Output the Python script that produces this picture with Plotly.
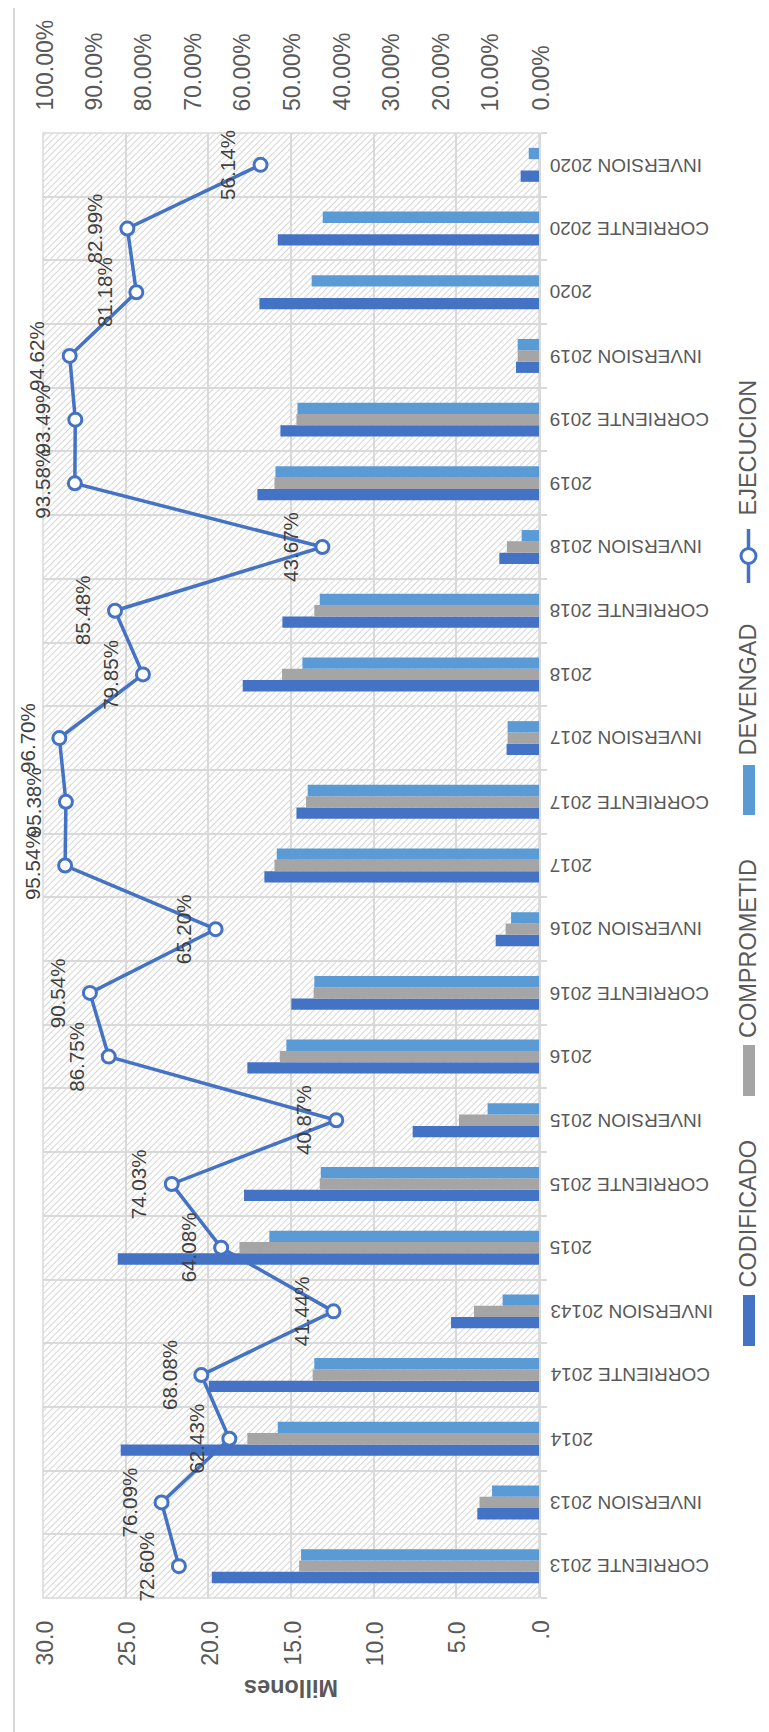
import base64
import plotly.graph_objects as go

# ---------------- data ----------------
categories = ["CORRIENTE 2013", "INVERSION 2013", "2014", "CORRIENTE 2014", "INVERSION 20143",
              "2015", "CORRIENTE 2015", "INVERSION 2015", "2016", "CORRIENTE 2016",
              "INVERSION 2016", "2017", "CORRIENTE 2017", "INVERSION 2017", "2018",
              "CORRIENTE 2018", "INVERSION 2018", "2019", "CORRIENTE 2019", "INVERSION 2019",
              "2020", "CORRIENTE 2020", "INVERSION 2020"]
codificado = [19.79, 3.73, 25.30, 19.96, 5.32, 25.48, 17.84, 7.64, 17.64, 14.98,
              2.62, 16.61, 14.67, 1.96, 17.92, 15.52, 2.40, 17.03, 15.64, 1.39,
              16.91, 15.80, 1.11]
comprometido = [14.51, 3.60, 17.64, 13.69, 3.93, 18.12, 13.26, 4.84, 15.68, 13.63,
                2.02, 16.00, 14.09, 1.90, 15.54, 13.59, 1.94, 16.00, 14.67, 1.29,
                None, None, None]
devengado = [14.39, 2.84, 15.80, 13.59, 2.20, 16.31, 13.20, 3.11, 15.28, 13.59,
             1.69, 15.86, 13.99, 1.90, 14.31, 13.26, 1.05, 15.94, 14.61, 1.29,
             13.75, 13.08, 0.62]
ejecucion_pct = [72.60, 76.09, 62.43, 68.08, 41.44, 64.08, 74.03, 40.87, 86.75, 90.54,
                 65.20, 95.54, 95.38, 96.70, 79.85, 85.48, 43.67, 93.58, 93.49, 94.62,
                 81.18, 82.99, 56.14]
millones_ticks = [30, 25, 20, 15, 10, 5, 0]
millones_ticktext = ["30.0", "25.0", "20.0", "15.0", "10.0", "5.0", ".0"]
pct_ticks = [1.0, 0.9, 0.8, 0.7, 0.6, 0.5, 0.4, 0.3, 0.2, 0.1, 0.0]
pct_ticktext = ["100.00%", "90.00%", "80.00%", "70.00%", "60.00%", "50.00%",
                "40.00%", "30.00%", "20.00%", "10.00%", "0.00%"]
legend_names = ["CODIFICADO", "COMPROMETID", "DEVENGAD", "EJECUCION"]
axis_title = "Millones"

# ---------------- style ----------------
C_COD, C_COMP, C_DEV = "#4472C4", "#A5A5A5", "#5B9BD5"
GRID = "#d9d9d9"
TXT = "#595959"
LBL = "#404040"
FONT = "Liberation Sans, Arial, sans-serif"

W, H = 769, 1732
L, R, T, B = 35, 531, 125, 1590
PW, PH = R - L, B - T


def px(x):
    return (x - L) / PW


def py(y):
    return (B - y) / PH


fig = go.Figure()
fig.add_trace(go.Bar(y=categories, x=codificado, orientation="h", name=legend_names[0],
                     marker=dict(color=C_COD, line=dict(width=0)), xaxis="x", yaxis="y"))
fig.add_trace(go.Bar(y=categories, x=comprometido, orientation="h", name=legend_names[1],
                     marker=dict(color=C_COMP, line=dict(width=0)), xaxis="x", yaxis="y"))
fig.add_trace(go.Bar(y=categories, x=devengado, orientation="h", name=legend_names[2],
                     marker=dict(color=C_DEV, line=dict(width=0)), xaxis="x", yaxis="y"))
fig.add_trace(go.Scatter(y=categories, x=[v / 100 for v in ejecucion_pct], name=legend_names[3],
                         xaxis="x2", yaxis="y", mode="lines+markers", cliponaxis=False,
                         line=dict(color=C_COD, width=3.5),
                         marker=dict(size=13, color="white", line=dict(color=C_COD, width=3))))

annotations = []
# data labels (y given as category index so year-like names stay categorical)
for i, v in enumerate(ejecucion_pct):
    annotations.append(dict(x=v / 100, y=i, xref="x2", yref="y", text=f"{v:.2f}%",
                            showarrow=False, textangle=-90, xanchor="right", yanchor="middle",
                            xshift=-19, font=dict(family=FONT, size=20.6, color=LBL)))
# category labels (upside-down)
for i, c in enumerate(categories):
    annotations.append(dict(x=px(540), y=i, xref="paper", yref="y", text=c, showarrow=False,
                            textangle=180, xanchor="left", yanchor="middle",
                            font=dict(family=FONT, size=19, color=TXT)))
# value axis labels
for v, t in zip(millones_ticks, millones_ticktext):
    annotations.append(dict(x=v, y=py(1611), xref="x", yref="paper", text=t, showarrow=False,
                            textangle=-90, xanchor="center", yanchor="top", xshift=1,
                            font=dict(family=FONT, size=23, color=TXT)))
# percent axis labels
for v, t in zip(pct_ticks, pct_ticktext):
    annotations.append(dict(x=v, y=py(105), xref="x2", yref="paper", text=t, showarrow=False,
                            textangle=-90, xanchor="center", yanchor="bottom", xshift=1,
                            font=dict(family=FONT, size=23, color=TXT)))
# axis title
annotations.append(dict(x=px(283), y=py(1680), xref="paper", yref="paper", text=f"<b>{axis_title}</b>",
                        showarrow=False, textangle=180, xanchor="center", yanchor="middle",
                        font=dict(family=FONT, size=23.5, color=TXT)))
# legend texts
leg_text_bottom = [1282, 1032, 750, 510]
for name, yb in zip(legend_names, leg_text_bottom):
    annotations.append(dict(x=px(739.5), y=py(yb), xref="paper", yref="paper", text=name,
                            showarrow=False, textangle=-90, xanchor="center", yanchor="bottom",
                            font=dict(family=FONT, size=23.5, color=TXT)))

shapes = []
# legend swatches
for color, (y0, y1) in zip([C_COD, C_COMP, C_DEV], [(1287, 1338), (1037, 1088), (757, 807)]):
    shapes.append(dict(type="rect", xref="paper", yref="paper", x0=px(735), x1=px(747),
                       y0=py(y1), y1=py(y0), fillcolor=color, line=dict(width=0)))
shapes.append(dict(type="line", xref="paper", yref="paper", x0=px(740.5), x1=px(740.5),
                   y0=py(575), y1=py(521), line=dict(color=C_COD, width=3.5)))
shapes.append(dict(type="circle", xref="paper", yref="paper", x0=px(740.5 - 7.5), x1=px(740.5 + 7.5),
                   y0=py(548 + 7.5), y1=py(548 - 7.5), fillcolor="white",
                   line=dict(color=C_COD, width=3)))
# chart frame (left and bottom edges visible)
shapes.append(dict(type="line", xref="paper", yref="paper", x0=px(6), x1=px(6), y0=py(1726), y1=py(-5),
                   line=dict(color=GRID, width=2)))
shapes.append(dict(type="line", xref="paper", yref="paper", x0=px(6), x1=px(780), y0=py(1726), y1=py(1726),
                   line=dict(color=GRID, width=2)))
# plot area border
shapes.append(dict(type="rect", xref="paper", yref="paper", x0=0, x1=1, y0=0, y1=1, layer="below",
                   line=dict(color=GRID, width=1.5), fillcolor="rgba(0,0,0,0)"))

# hatched plot background
hatch_svg = (
    f'<svg xmlns="http://www.w3.org/2000/svg" width="{PW}" height="{PH}" viewBox="0 0 {PW} {PH}">'
    '<defs><pattern id="h" width="4.6" height="4.6" patternUnits="userSpaceOnUse" '
    'patternTransform="rotate(45)"><line x1="2.3" y1="-1" x2="2.3" y2="5.6" '
    'stroke="#d6d6d6" stroke-width="1.1"/></pattern></defs>'
    f'<rect x="0" y="0" width="{PW}" height="{PH}" fill="white"/>'
    f'<rect x="0" y="0" width="{PW}" height="{PH}" fill="url(#h)"/></svg>'
)
hatch_src = "data:image/svg+xml;base64," + base64.b64encode(hatch_svg.encode()).decode()

fig.update_layout(
    width=W, height=H,
    margin=dict(l=L, r=W - R, t=T, b=H - B, pad=0),
    paper_bgcolor="white", plot_bgcolor="white",
    showlegend=False,
    barmode="group", bargap=0.467, bargroupgap=0,
    font=dict(family=FONT, color=TXT),
    xaxis=dict(range=[30, 0], tick0=0, dtick=5, showgrid=True, gridcolor=GRID, gridwidth=1.5,
               showticklabels=False, zeroline=False, showline=False, ticks=""),
    xaxis2=dict(range=[1, 0], overlaying="x", side="top", showgrid=False, showticklabels=False,
                zeroline=False, showline=False, ticks=""),
    yaxis=dict(type="category", categoryorder="array", categoryarray=categories,
               range=[-0.5, len(categories) - 0.5], side="right", tickson="boundaries",
               ticks="outside", ticklen=6, tickcolor=GRID, tickwidth=1.5,
               showgrid=True, gridcolor=GRID, gridwidth=1.5, showticklabels=False,
               showline=True, linecolor=GRID, linewidth=1.5, zeroline=False),
    images=[dict(source=hatch_src, xref="paper", yref="paper", x=0, y=1, sizex=1, sizey=1,
                 xanchor="left", yanchor="top", sizing="stretch", layer="below")],
    annotations=annotations,
    shapes=shapes,
)

fig.write_html("out.html")
